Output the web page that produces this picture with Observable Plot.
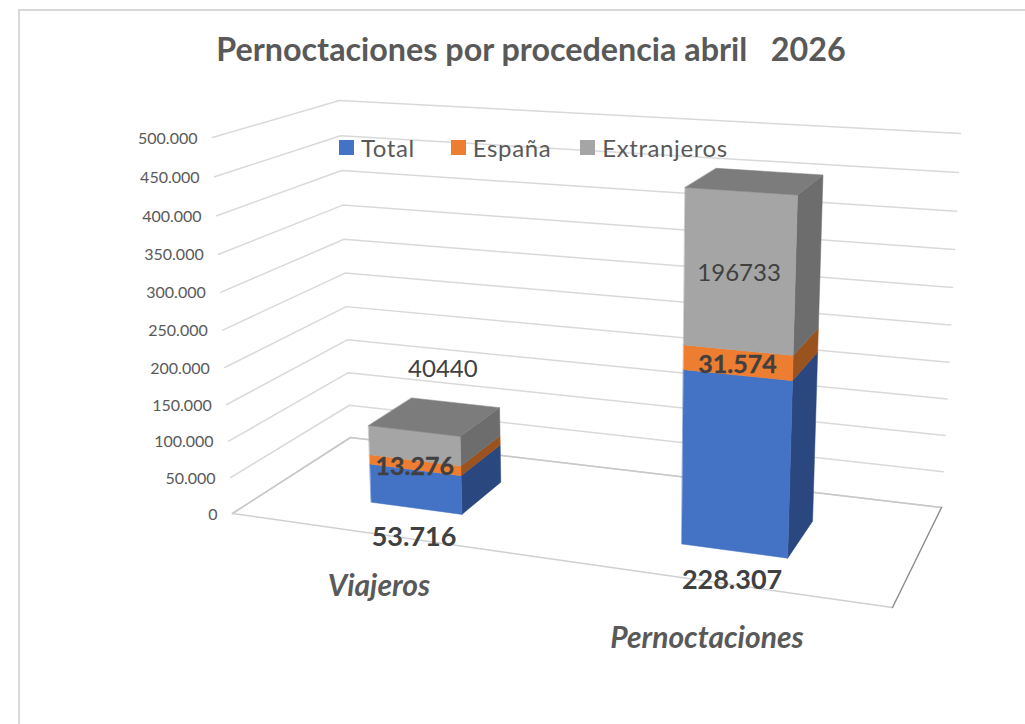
<!DOCTYPE html>
<html><head><meta charset="utf-8">
<script src="https://cdn.jsdelivr.net/npm/d3@7"></script>
<script src="https://cdn.jsdelivr.net/npm/@observablehq/plot@0.6"></script>
<style>
html,body{margin:0;padding:0;background:#fff;width:1025px;height:724px;overflow:hidden}
#frame{position:absolute;left:18px;top:9px;width:1100px;height:800px;border:2px solid #d9d9d9;box-sizing:border-box}
#chart{position:absolute;left:0;top:0}
#title{position:absolute;left:19px;width:1024px;top:29px;text-align:center;font:700 32.3px Lato,sans-serif;color:#595959;white-space:pre}
#legend{position:absolute;left:339px;top:133px;display:flex;font:400 24px Lato,sans-serif;color:#595959;letter-spacing:.6px}
#legend span{display:inline-flex;align-items:center;white-space:pre}
#legend i{display:inline-block;width:15px;height:15px;margin-right:7px}
</style></head><body>
<div id="frame"></div>
<div id="chart"></div>
<div id="title">Pernoctaciones por procedencia abril   2026</div>
<div id="legend"></div>
<script>
const categories = ["Viajeros", "Pernoctaciones"];
const seriesNames = ["Total", "España", "Extranjeros"];
const total = [53716, 228307];
const espana = [13276, 31574];
const extranjeros = [40440, 196733];
const totalLabels = ["53.716", "228.307"];
const espanaLabels = ["13.276", "31.574"];
const extranjerosLabels = ["40440", "196733"];
const tickValues = [0, 50000, 100000, 150000, 200000, 250000, 300000, 350000, 400000, 450000, 500000];
const tickLabels = ["0", "50.000", "100.000", "150.000", "200.000", "250.000", "300.000", "350.000", "400.000", "450.000", "500.000"];

const frontColors = ["#4472c4", "#ed7d31", "#a5a5a5"];
const sideColors = ["#2a4780", "#9a521f", "#6d6d6d"];
const topColor = "#7c7c7c";

// Scene camera: the corners of the chart box as they fall on the page
const floorQuad = [[232, 513], [892, 607], [941, 507], [350, 437]];
const roofQuad = [[212, 137], [912, 183], [960, 133], [339, 100]];
const valueMax = 500000, depthWarp = 1.05;
function homography(q) {
  const [[x0,y0],[x1,y1],[x2,y2],[x3,y3]] = q;
  const dx1=x1-x2, dx2=x3-x2, sx=x0-x1+x2-x3, dy1=y1-y2, dy2=y3-y2, sy=y0-y1+y2-y3;
  const den=dx1*dy2-dy1*dx2, g=(sx*dy2-sy*dx2)/den, h=(dx1*sy-dy1*sx)/den;
  const a=x1-x0+g*x1, b=x3-x0+h*x3, d=y1-y0+g*y1, e=y3-y0+h*y3;
  return (u,z)=>{const w=g*u+h*z+1; return [(a*u+b*z+x0)/w,(d*u+e*z+y0)/w];};
}
const floorH = homography(floorQuad), roofH = homography(roofQuad);
function project(u, v, z) {
  const t = v/valueMax, s = t/(t+depthWarp*(1-t));
  const p = floorH(u,z), r = roofH(u,z);
  return {x: p[0]+(r[0]-p[0])*s, y: p[1]+(r[1]-p[1])*s};
}

// Category band and depth band inside the box
const bandCenters = [0.256, 0.756], bandHalf = 0.077, zFront = 0.30, zBack = 0.69;

// walls
const walls = tickValues.flatMap(v => [[0,0],[0,1],[1,1]].map(([u,z]) => ({...project(u,v,z), level:v})));
const floorEdge = [[0,0],[0,1],[1,1]].map(([u,z]) => project(u,0,z));
const floorFront = [[0,0],[1,0]].map(([u,z]) => project(u,0,z));
const floorRight = [[1,1],[1,0]].map(([u,z]) => project(u,0,z));

// bar faces
const faces = [];
categories.forEach((c,i) => {
  const u0 = bandCenters[i]-bandHalf, u1 = bandCenters[i]+bandHalf;
  const stack = [total[i], espana[i], extranjeros[i]];
  let base = 0;
  const add = (id,fill,pts) => pts.forEach(p => faces.push({...p, id, fill}));
  stack.forEach((val,k) => {
    const top = base+val;
    add(`${c}-s${k}`, sideColors[k], [project(u1,base,zFront),project(u1,base,zBack),project(u1,top,zBack),project(u1,top,zFront)]);
    add(`${c}-f${k}`, frontColors[k], [project(u0,base,zFront),project(u1,base,zFront),project(u1,top,zFront),project(u0,top,zFront)]);
    base = top;
  });
  add(`${c}-t`, topColor, [project(u0,base,zFront),project(u1,base,zFront),project(u1,base,zBack),project(u0,base,zBack)]);
});

// labels
const axisText = tickValues.map((v,i) => ({...project(0,v,0), label:tickLabels[i]}));
const labelAt = (i,v) => project(bandCenters[i],v,zFront);
const boldInside = categories.map((c,i) => ({...labelAt(i,total[i]+espana[i]/2), label:espanaLabels[i]}));
const boldBase = categories.map((c,i) => ({...labelAt(i,0), label:totalLabels[i]}));
const plainTop = categories.map((c,i) => ({...labelAt(i,total[i]+espana[i]+extranjeros[i]*(i?0.5:1)), label:extranjerosLabels[i]}));
const catText = categories.map((c,i) => ({...project(bandCenters[i],0,0), label:c}));

const txt = {fontFamily:"Lato, sans-serif"};
const plot = Plot.plot({
  width:1025, height:724, margin:0,
  x:{domain:[0,1025], range:[0,1025], axis:null},
  y:{domain:[0,724], range:[0,724], axis:null},
  color:{type:"identity"},
  style:{background:"transparent"},
  marks:[
    Plot.line(walls,{x:"x",y:"y",z:"level",stroke:"#d9d9d9",strokeWidth:1.5}),
    Plot.line(floorEdge,{x:"x",y:"y",stroke:"#c8c8c8",strokeWidth:1.5}),
    Plot.line(floorFront,{x:"x",y:"y",stroke:"#d0d0d0",strokeWidth:1.5}),
    Plot.line(floorRight,{x:"x",y:"y",stroke:"#8c8c8c",strokeWidth:1.4}),
    Plot.line(faces,{x:"x",y:"y",z:"id",fill:"fill",stroke:"fill",strokeWidth:0.5,curve:"linear-closed"}),
    Plot.text(axisText,{x:"x",y:"y",text:"label",textAnchor:"end",dx:-15,dy:1,fontSize:16,fill:"#595959",...txt}),
    Plot.text(boldInside,{x:"x",y:"y",text:"label",fontSize:25,fontWeight:700,fill:"#404040",dy:2,stroke:"#404040",strokeWidth:0.3,...txt}),
    Plot.text(boldBase,{x:"x",y:"y",text:"label",fontSize:27,fontWeight:700,fill:"#404040",dy:29,dx:-2,...txt}),
    Plot.text(plainTop,{x:"x",y:"y",text:"label",fontSize:24,fill:"#404040",dx:29,dy:-62,...txt,filter:(d,i)=>i===0}),
    Plot.text(plainTop,{x:"x",y:"y",text:"label",fontSize:24,fill:"#404040",dy:2,...txt,filter:(d,i)=>i===1}),
    Plot.text(catText,{x:"x",y:"y",text:"label",fontSize:30,fontWeight:700,fontStyle:"italic",fill:"#595959",dx:-3,dy:52,...txt,filter:(d,i)=>i===0}),
    Plot.text(catText,{x:"x",y:"y",text:"label",fontSize:30,fontWeight:700,fontStyle:"italic",fill:"#595959",dx:-4,dy:57,...txt,filter:(d,i)=>i===1})
  ]
});
document.getElementById("chart").appendChild(plot);
const legend = document.getElementById("legend");
seriesNames.forEach((n,i) => {
  const s = document.createElement("span");
  s.style.marginRight = i===0 ? "36px" : i===1 ? "29px" : "0";
  s.innerHTML = `<i style="background:${frontColors[i]}"></i>${n}`;
  legend.appendChild(s);
});
</script>
</body></html>
